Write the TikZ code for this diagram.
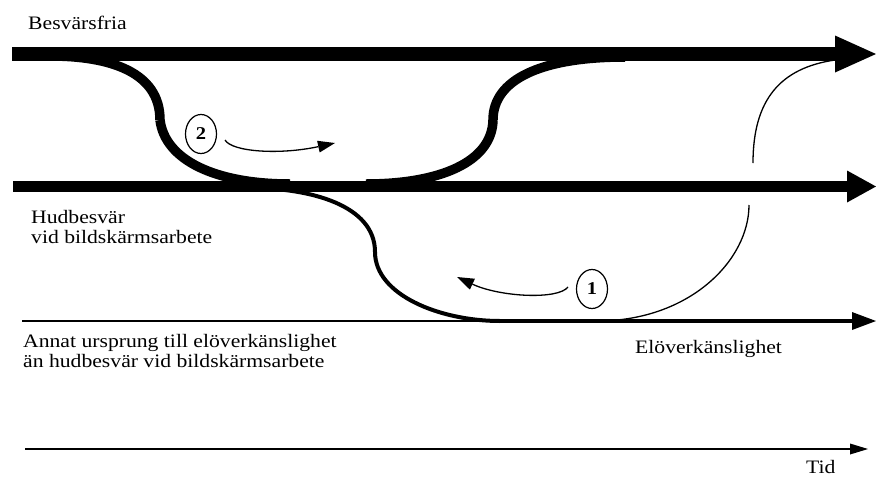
\documentclass[tikz,border=0pt]{standalone}
\usepackage{fontspec}
\setmainfont{Liberation Serif}[FakeStretch=1.14]
\usetikzlibrary{arrows.meta,shapes.geometric}
\tikzset{
  lbl/.style={inner sep=0pt,anchor=base west,align=left,font=\fontsize{19}{20}\selectfont},
  numell/.style={draw,ellipse,line width=1.2pt,minimum width=31pt,minimum height=39pt,inner sep=0pt,font=\fontsize{18}{18}\selectfont\bfseries},
  topline/.style={line width=14pt,-{Triangle[length=41pt,width=37pt,line width=0pt]}},
  midline/.style={line width=11.5pt,-{Triangle[length=29pt,width=32pt,line width=0pt]}},
  lowline/.style={line width=4pt,-{Triangle[length=24pt,width=18pt,line width=0pt]}},
  thinline/.style={line width=1.4pt},
  heavycurve/.style={line width=9.5pt},
  medcurve/.style={line width=4pt},
  thincurve/.style={line width=1.3pt},
  smallarrow/.style={line width=1.3pt,-{Triangle[length=17pt,width=12pt,line width=0pt]}},
  timeaxis/.style={line width=1.3pt,-{Triangle[length=18pt,width=11pt,line width=0pt]}}
}
\begin{document}
\begin{tikzpicture}[x=1pt,y=-1pt]
\useasboundingbox (0,0) rectangle (876,477);
% coordinates
\coordinate (topS) at (12,54);
\coordinate (topE) at (876,54);
\coordinate (midS) at (13,186.5);
\coordinate (midE) at (876,186.5);
\coordinate (lowS) at (22,321);
\coordinate (lowJ) at (500,321);
\coordinate (lowE) at (876,321);
\coordinate (timeS) at (25,449);
\coordinate (timeE) at (868,449);
% S-curve 2 (down from top to middle)
\coordinate (c2a) at (50,56);
\coordinate (c2b) at (160,120);
\coordinate (c2c) at (290,184);
% S-curve 3 (up from middle to top)
\coordinate (c3a) at (366,184);
\coordinate (c3b) at (493,120);
\coordinate (c3c) at (625,57);
% curve 1 (down from middle to bottom)
\coordinate (c1a) at (250,188);
\coordinate (c1b) at (375,252);
% thin big curve
\coordinate (tcA) at (597,321);
\coordinate (tcB) at (749,205);
\coordinate (tcC) at (753,163);
\coordinate (tcD) at (835,60);
% small arrows
\coordinate (a2s) at (225,140);
\coordinate (a2e) at (335,143);
\coordinate (a1s) at (568,287);
\coordinate (a1e) at (457,277);

% main lines
\draw[topline] (topS) -- (topE);
\draw[midline] (midS) -- (midE);
\draw[thinline] (lowS) -- (lowJ);
\draw[lowline] (lowJ) -- (lowE);
\draw[timeaxis] (timeS) -- (timeE);

% curve 2
\draw[heavycurve] (c2a) .. controls (110,56) and (160,72) .. (c2b);
\draw[heavycurve] (c2b) .. controls (165,160) and (215,184) .. (c2c);
% curve 3
\draw[heavycurve] (c3a) .. controls (440,184) and (492,162) .. (c3b);
\draw[heavycurve] (c3b) .. controls (493,80) and (540,57) .. (c3c);
% curve 1
\draw[medcurve] (c1a) .. controls (310,188) and (375,205) .. (c1b);
\draw[medcurve] (c1b) .. controls (375,295) and (440,321) .. (lowJ);
% thin big curve
\draw[thincurve] (tcA) .. controls (690,321) and (749,260) .. (tcB);
\draw[thincurve] (tcC) .. controls (753,100) and (780,68) .. (tcD);
% small arrows
\draw[smallarrow] (a2s) .. controls (232,152) and (280,155) .. (a2e);
\draw[smallarrow] (a1s) .. controls (558,300) and (500,297) .. (a1e);

% numbered ellipses
\node[numell] (n2) at (201,134) {2};
\node[numell] (n1) at (592,289) {1};

% labels
\node[lbl] (besv) at (28,29) {Besvärsfria};
\node[lbl] (hud) at (31,243) {Hudbesvär\\vid bildskärmsarbete};
\node[lbl] (annat) at (23,367) {Annat ursprung till elöverkänslighet\\än hudbesvär vid bildskärmsarbete};
\node[lbl] (elo) at (635,353) {Elöverkänslighet};
\node[lbl] (tid) at (806,473) {Tid};
\end{tikzpicture}
\end{document}
